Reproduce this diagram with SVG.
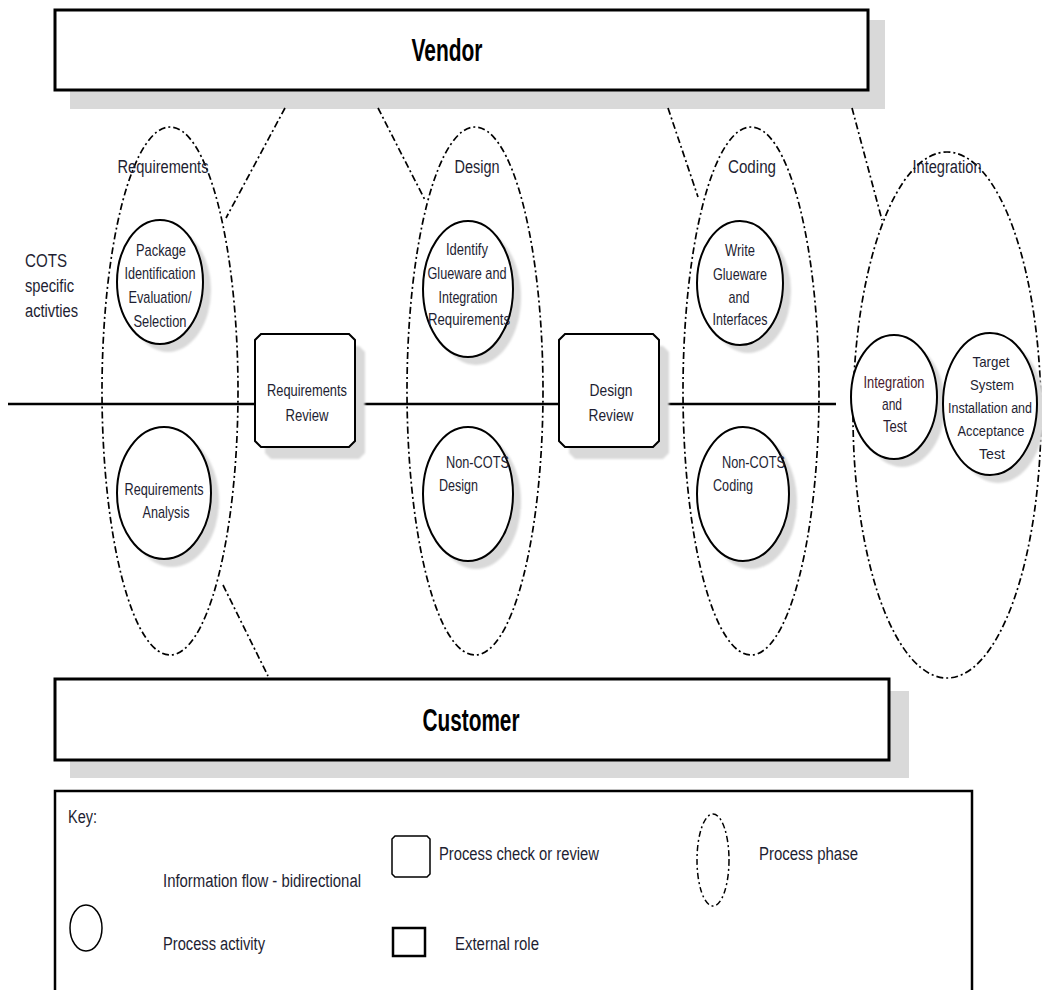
<svg xmlns="http://www.w3.org/2000/svg" width="1042" height="990" viewBox="0 0 1042 990">
  <style>
    .t { font-family: "Liberation Sans", Arial, sans-serif; fill: #1e1e32; }
    .act { font-size: 17px; text-anchor: middle; }
    .lbl { font-size: 18px; text-anchor: middle; }
    .key { font-size: 18px; }
    .role { font-size: 32px; font-weight: bold; text-anchor: middle; fill: #000; }
    .shadow { fill: #d9d9d9; stroke: none; }
    .node { fill: #fff; stroke: #000; stroke-width: 2; }
    .phase { fill: none; stroke: #000; stroke-width: 1.7; stroke-dasharray: 7 3 2 3; }
    .link { fill: none; stroke: #000; stroke-width: 1.7; stroke-dasharray: 7 3 2 3; }
    .flow { stroke: #000; stroke-width: 2.5; fill: none; }
  </style>
  <defs>
    <filter id="soft" x="-10%" y="-10%" width="120%" height="120%">
      <feGaussianBlur stdDeviation="1.2"/>
    </filter>
    <path id="review" d="M6,0 H94 L100,6 V107 L94,113 H6 L0,107 V6 Z"/>
  </defs>

  <rect width="1042" height="990" fill="#fff"/>

  <!-- External roles -->
  <g id="vendor">
    <rect class="shadow" x="70" y="20" width="815" height="89"/>
    <rect x="55" y="10" width="813" height="80" fill="#fff" stroke="#000" stroke-width="3"/>
    <text class="t role" x="447" y="61" textLength="71" lengthAdjust="spacingAndGlyphs">Vendor</text>
  </g>
  <g id="customer">
    <rect class="shadow" x="70" y="691" width="839" height="87"/>
    <rect x="55" y="679" width="834" height="81" fill="#fff" stroke="#000" stroke-width="3"/>
    <text class="t role" x="471" y="731" textLength="97" lengthAdjust="spacingAndGlyphs">Customer</text>
  </g>

  <!-- Information flow lines -->
  <g id="connectors">
    <line class="flow" x1="8" y1="404" x2="255" y2="404"/>
    <line class="flow" x1="355" y1="404" x2="559" y2="404"/>
    <line class="flow" x1="662" y1="404" x2="836" y2="404"/>
    <line class="link" x1="285" y1="108" x2="226" y2="218"/>
    <line class="link" x1="378" y1="108" x2="425" y2="200"/>
    <line class="link" x1="668" y1="108" x2="698" y2="197"/>
    <line class="link" x1="852" y1="108" x2="882" y2="220"/>
    <line class="link" x1="223" y1="585" x2="268" y2="676"/>
  </g>

  <!-- Process phases -->
  <g id="phase-requirements">
    <ellipse class="phase" cx="170" cy="391" rx="68" ry="264"/>
    <text class="t lbl" x="163" y="173" textLength="91" lengthAdjust="spacingAndGlyphs">Requirements</text>
  </g>
  <g id="phase-design">
    <ellipse class="phase" cx="475" cy="391" rx="68" ry="264"/>
    <text class="t lbl" x="477" y="173" textLength="45" lengthAdjust="spacingAndGlyphs">Design</text>
  </g>
  <g id="phase-coding">
    <ellipse class="phase" cx="751" cy="391" rx="68" ry="264"/>
    <text class="t lbl" x="752" y="173" textLength="48" lengthAdjust="spacingAndGlyphs">Coding</text>
  </g>
  <g id="phase-integration">
    <ellipse class="phase" cx="947" cy="415" rx="94" ry="263"/>
    <text class="t lbl" x="947" y="173" textLength="69" lengthAdjust="spacingAndGlyphs">Integration</text>
  </g>

  <!-- Side note -->
  <g id="cots-note">
    <text class="t key" x="25" y="267" font-size="19" textLength="42" lengthAdjust="spacingAndGlyphs">COTS</text>
    <text class="t key" x="25" y="292" font-size="19" textLength="49" lengthAdjust="spacingAndGlyphs">specific</text>
    <text class="t key" x="25" y="317" font-size="19" textLength="53" lengthAdjust="spacingAndGlyphs">activties</text>
  </g>

  <!-- Process activities -->
  <g id="package-identification">
    <ellipse class="shadow" cx="168" cy="290" rx="43" ry="62" filter="url(#soft)"/>
    <ellipse class="node" cx="160" cy="282" rx="43" ry="62"/>
    <text class="t act" x="161" y="256" textLength="50" lengthAdjust="spacingAndGlyphs">Package</text>
    <text class="t act" x="160" y="279" textLength="71" lengthAdjust="spacingAndGlyphs">Identification</text>
    <text class="t act" x="160" y="303" textLength="63" lengthAdjust="spacingAndGlyphs">Evaluation/</text>
    <text class="t act" x="160" y="327" textLength="53" lengthAdjust="spacingAndGlyphs">Selection</text>
  </g>
  <g id="requirements-analysis">
    <ellipse class="shadow" cx="172" cy="501" rx="47" ry="66" filter="url(#soft)"/>
    <ellipse class="node" cx="164" cy="493" rx="47" ry="66"/>
    <text class="t act" x="164" y="495" textLength="79" lengthAdjust="spacingAndGlyphs">Requirements</text>
    <text class="t act" x="166" y="518" textLength="47" lengthAdjust="spacingAndGlyphs">Analysis</text>
  </g>
  <g id="identify-glueware">
    <ellipse class="shadow" cx="476" cy="297" rx="45" ry="68" filter="url(#soft)"/>
    <ellipse class="node" cx="468" cy="289" rx="45" ry="68"/>
    <text class="t act" x="467" y="255" textLength="42" lengthAdjust="spacingAndGlyphs">Identify</text>
    <text class="t act" x="467" y="279" textLength="79" lengthAdjust="spacingAndGlyphs">Glueware and</text>
    <text class="t act" x="468" y="303" textLength="59" lengthAdjust="spacingAndGlyphs">Integration</text>
    <text class="t act" x="469" y="325" textLength="82" lengthAdjust="spacingAndGlyphs">Requirements</text>
  </g>
  <g id="non-cots-design">
    <ellipse class="shadow" cx="476" cy="502" rx="45" ry="67" filter="url(#soft)"/>
    <ellipse class="node" cx="468" cy="494" rx="45" ry="67"/>
    <text class="t act" x="446" y="468" style="text-anchor:start" textLength="63" lengthAdjust="spacingAndGlyphs">Non-COTS</text>
    <text class="t act" x="439" y="491" style="text-anchor:start" textLength="39" lengthAdjust="spacingAndGlyphs">Design</text>
  </g>
  <g id="write-glueware">
    <ellipse class="shadow" cx="748" cy="291" rx="43" ry="62" filter="url(#soft)"/>
    <ellipse class="node" cx="740" cy="283" rx="43" ry="62"/>
    <text class="t act" x="740" y="256" textLength="30" lengthAdjust="spacingAndGlyphs">Write</text>
    <text class="t act" x="740" y="280" textLength="54" lengthAdjust="spacingAndGlyphs">Glueware</text>
    <text class="t act" x="739" y="303" textLength="21" lengthAdjust="spacingAndGlyphs">and</text>
    <text class="t act" x="740" y="325" textLength="55" lengthAdjust="spacingAndGlyphs">Interfaces</text>
  </g>
  <g id="non-cots-coding">
    <ellipse class="shadow" cx="751" cy="502" rx="46" ry="67" filter="url(#soft)"/>
    <ellipse class="node" cx="743" cy="494" rx="46" ry="67"/>
    <text class="t act" x="722" y="468" style="text-anchor:start" textLength="63" lengthAdjust="spacingAndGlyphs">Non-COTS</text>
    <text class="t act" x="713" y="491" style="text-anchor:start" textLength="40" lengthAdjust="spacingAndGlyphs">Coding</text>
  </g>
  <g id="integration-test">
    <ellipse class="shadow" cx="902" cy="405" rx="43" ry="62" filter="url(#soft)"/>
    <ellipse class="node" cx="894" cy="397" rx="43" ry="62"/>
    <text class="t act" x="894" y="388" style="fill:#4a1a2e" textLength="61" lengthAdjust="spacingAndGlyphs">Integration</text>
    <text class="t act" x="892" y="410" style="fill:#2a1a30" textLength="20" lengthAdjust="spacingAndGlyphs">and</text>
    <text class="t act" x="895" y="432" style="fill:#2a1a30" textLength="24" lengthAdjust="spacingAndGlyphs">Test</text>
  </g>
  <g id="target-system">
    <ellipse class="shadow" cx="998" cy="412" rx="47" ry="71" filter="url(#soft)"/>
    <ellipse class="node" cx="990" cy="404" rx="47" ry="71"/>
    <text class="t act" x="991" y="367" font-size="15" style="font-size:15px" textLength="37" lengthAdjust="spacingAndGlyphs">Target</text>
    <text class="t act" x="992" y="390" style="font-size:15px" textLength="44" lengthAdjust="spacingAndGlyphs">System</text>
    <text class="t act" x="990" y="413" style="font-size:14px" textLength="84" lengthAdjust="spacingAndGlyphs">Installation and</text>
    <text class="t act" x="991" y="436" style="font-size:15px" textLength="67" lengthAdjust="spacingAndGlyphs">Acceptance</text>
    <text class="t act" x="992" y="459" style="font-size:15px" textLength="26" lengthAdjust="spacingAndGlyphs">Test</text>
  </g>

  <!-- Process checks -->
  <g id="requirements-review">
    <use href="#review" x="265" y="346" class="shadow" filter="url(#soft)"/>
    <use href="#review" x="255" y="334" fill="#fff" stroke="#000" stroke-width="2"/>
    <text class="t act" x="307" y="396" textLength="80" lengthAdjust="spacingAndGlyphs">Requirements</text>
    <text class="t act" x="307" y="421" textLength="43" lengthAdjust="spacingAndGlyphs">Review</text>
  </g>
  <g id="design-review">
    <use href="#review" x="569" y="346" class="shadow" filter="url(#soft)"/>
    <use href="#review" x="559" y="334" fill="#fff" stroke="#000" stroke-width="2"/>
    <text class="t act" x="611" y="396" textLength="43" lengthAdjust="spacingAndGlyphs">Design</text>
    <text class="t act" x="611" y="421" textLength="45" lengthAdjust="spacingAndGlyphs">Review</text>
  </g>

  <!-- Legend -->
  <g id="key">
    <rect x="55" y="791" width="917" height="210" fill="none" stroke="#000" stroke-width="2.5"/>
    <text class="t key" x="68" y="823" font-size="17" textLength="29" lengthAdjust="spacingAndGlyphs">Key:</text>
    <text class="t key" x="163" y="887" textLength="198" lengthAdjust="spacingAndGlyphs">Information flow - bidirectional</text>
    <ellipse cx="86" cy="928" rx="16" ry="23" fill="#fff" stroke="#000" stroke-width="1.5"/>
    <text class="t key" x="163" y="950" textLength="102" lengthAdjust="spacingAndGlyphs">Process activity</text>
    <path d="M395,836 H427 L430,839 V874 L427,877 H395 L392,874 V839 Z" fill="#fff" stroke="#000" stroke-width="1.5"/>
    <text class="t key" x="439" y="860" textLength="160" lengthAdjust="spacingAndGlyphs">Process check or review</text>
    <rect x="393" y="928" width="32" height="28" fill="#fff" stroke="#000" stroke-width="2.5"/>
    <text class="t key" x="455" y="950" textLength="84" lengthAdjust="spacingAndGlyphs">External role</text>
    <ellipse cx="713" cy="860" rx="16" ry="46" fill="none" stroke="#000" stroke-width="1.5" stroke-dasharray="6 3 2 3"/>
    <text class="t key" x="759" y="860" textLength="99" lengthAdjust="spacingAndGlyphs">Process phase</text>
  </g>
</svg>
